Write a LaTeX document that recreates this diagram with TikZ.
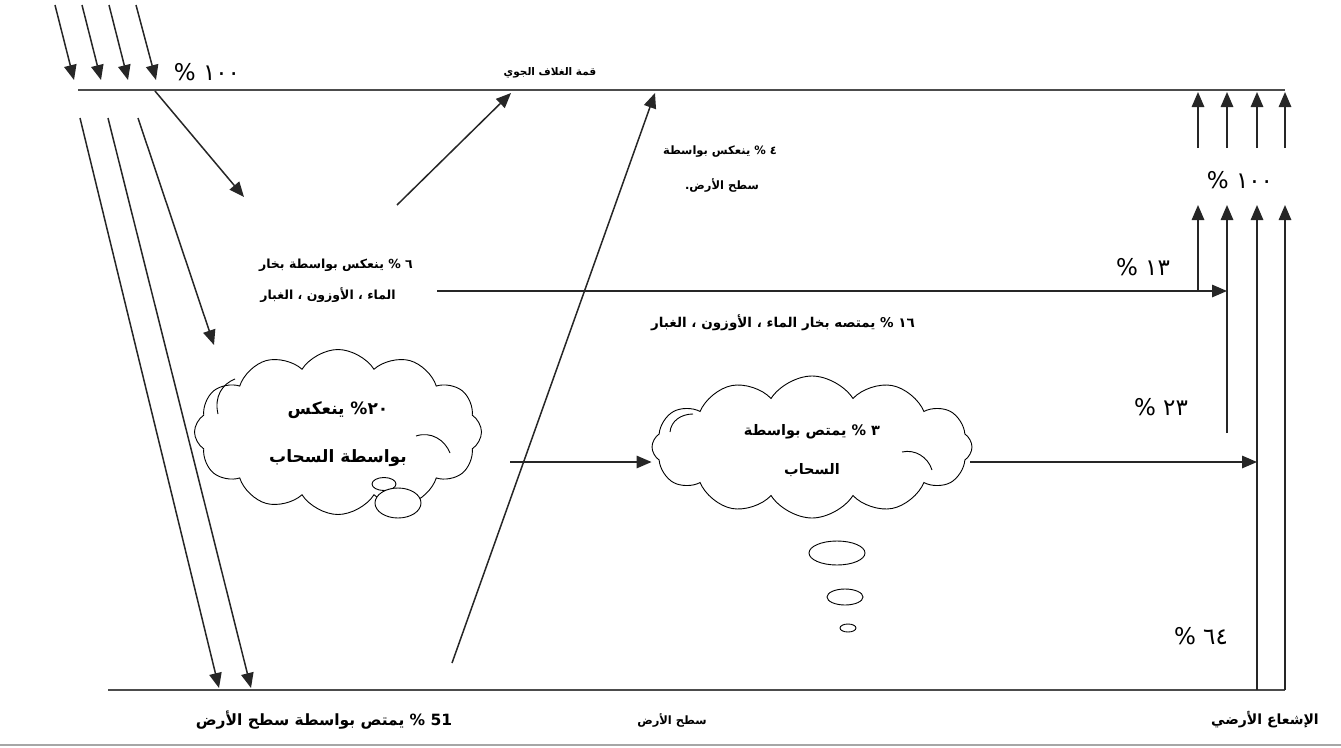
\documentclass[tikz,border=0pt]{standalone}
\usepackage{fontspec}
\usetikzlibrary{arrows.meta,shapes.symbols,shapes.geometric}
\newfontfamily\arfont[Script=Arabic]{DejaVu Sans}
\TeXXeTstate=1
\newcommand{\fs}[1]{\fontsize{#1}{#1}\selectfont}
\begin{document}
\begin{tikzpicture}[x=1pt,y=-1pt,
  arr/.style={line width=1.5pt, draw=black!85, -{Triangle[length=15pt,width=12.5pt]}},
  frameline/.style={line width=2.4pt, draw=black!70},
  lbl/.style={font=\arfont\bfseries, inner sep=0pt},
  num/.style={font=\arfont\fs{23}, inner sep=0pt},
  cloudbox/.style={cloud, draw, line width=0.9pt, cloud puffs=12, cloud puff arc=115, inner sep=0pt},
  innerarc/.style={line width=0.9pt},
  bub/.style={ellipse, draw, line width=0.9pt, inner sep=0pt}]
\useasboundingbox (0,0) rectangle (1341,747);

% frame lines
\coordinate (topL) at (78,90);
\coordinate (topR) at (1285,90);
\coordinate (botL) at (108,690);
\coordinate (botR) at (1285,690);
\draw[frameline] (topL) -- (topR);
\draw[frameline] (botL) -- (botR);
\draw[line width=1.5pt, draw=black!35] (0,745) -- (1341,745);

% incoming solar arrows
\foreach \i/\xs/\xe in {1/55/74, 2/82/101, 3/109/128, 4/136/156}{
  \coordinate (in\i s) at (\xs,5);
  \coordinate (in\i e) at (\xe,80);
  \draw[arr] (in\i s) -- (in\i e);
}
\node[num] (p100a) at (207,72) {\% ١٠٠};
\node[lbl, font=\arfont\bfseries\fs{10.5}] (toa) at (550,73) {\beginR قمة الغلاف الجوي\endR};

% reflected / down arrows
\coordinate (d1s) at (155,91);  \coordinate (d1e) at (244,197);
\draw[arr] (d1s) -- (d1e);
\coordinate (u1s) at (397,205); \coordinate (u1e) at (511,93);
\draw[arr] (u1s) -- (u1e);
\coordinate (u2s) at (452,663); \coordinate (u2e) at (655,93);
\draw[arr] (u2s) -- (u2e);
\coordinate (s1s) at (80,118);  \coordinate (s1e) at (219,688);
\coordinate (s2s) at (108,118); \coordinate (s2e) at (251,688);
\coordinate (s3s) at (138,118); \coordinate (s3e) at (214,345);
\draw[arr] (s1s) -- (s1e);
\draw[arr] (s2s) -- (s2e);
\draw[arr] (s3s) -- (s3e);

% labels
\node[lbl, font=\arfont\bfseries\fs{11.5}] (r4a) at (720,152) {\beginR ٤ \% ينعكس بواسطة\endR};
\node[lbl, font=\arfont\bfseries\fs{11.5}] (r4b) at (722,185) {\beginR سطح الأرض.\endR};
\node[lbl, font=\arfont\bfseries\fs{12.5}] (r6a) at (336,265) {\beginR ٦ \% ينعكس بواسطة بخار\endR};
\node[lbl, font=\arfont\bfseries\fs{12.5}] (r6b) at (328,295) {\beginR الماء ، الأوزون ، الغبار\endR};
\node[lbl, font=\arfont\bfseries\fs{13.5}] (a16) at (783,323) {\beginR ١٦ \% يمتصه بخار الماء ، الأوزون ، الغبار\endR};

% clouds
\node[cloudbox, aspect=1.8, minimum width=287pt, minimum height=165pt] (cl1) at (338,432) {};
\draw[innerarc] (218,414) .. controls (214,397) and (222,384) .. (235,379);
\draw[innerarc] (416,436) .. controls (431,431) and (445,440) .. (450,453);
\node[bub, minimum width=24pt, minimum height=13pt] (b1a) at (384,484) {};
\node[bub, fill=white, minimum width=46pt, minimum height=30pt] (b1b) at (398,503) {};
\node[lbl, font=\arfont\bfseries\fs{17}] (c1a) at (338,410) {\beginR ٢٠\% ينعكس\endR};
\node[lbl, font=\arfont\bfseries\fs{17}] (c1b) at (338,458) {\beginR بواسطة السحاب\endR};

\node[cloudbox, aspect=2.3, minimum width=320pt, minimum height=142pt] (cl2) at (812,447) {};
\draw[innerarc] (670,432) .. controls (671,421) and (681,414) .. (693,414);
\draw[innerarc] (902,452) .. controls (915,449) and (928,457) .. (932,470);
\node[lbl, font=\arfont\bfseries\fs{14.5}] (c2a) at (812,432) {\beginR ٣ \% يمتص بواسطة\endR};
\node[lbl, font=\arfont\bfseries\fs{14.5}] (c2b) at (812,470) {\beginR السحاب\endR};
\node[bub, minimum width=56pt, minimum height=24pt] (b2a) at (837,553) {};
\node[bub, minimum width=36pt, minimum height=16pt] (b2b) at (845,597) {};
\node[bub, minimum width=16pt, minimum height=8pt] (b2c) at (848,628) {};

% horizontal arrows
\coordinate (h1s) at (437,291); \coordinate (h1e) at (1227,291);
\draw[arr] (h1s) -- (h1e);
\coordinate (h2s) at (510,462); \coordinate (h2e) at (cl2.west |- h2s);
\draw[arr] (h2s) -- (h2e);
\coordinate (h3s) at (970,462); \coordinate (h3e) at (1257,462);
\draw[arr] (h3s) -- (h3e);

% right side verticals
\coordinate (v1s) at (1198,291); \coordinate (v1e) at (1198,205);
\coordinate (v2s) at (1227,433); \coordinate (v2e) at (1227,205);
\coordinate (v3s) at (1257,690); \coordinate (v3e) at (1257,205);
\coordinate (v4s) at (botR);     \coordinate (v4e) at (1285,205);
\foreach \k in {1,2,3,4}{\draw[arr] (v\k s) -- (v\k e);}
\foreach \k/\x in {1/1198,2/1227,3/1257,4/1285}{
  \coordinate (w\k s) at (\x,148);
  \coordinate (w\k e) at (\x,92);
  \draw[arr] (w\k s) -- (w\k e);
}
\node[num] (p100b) at (1240,180) {\% ١٠٠};
\node[num] (p13) at (1143,267) {\% ١٣};
\node[num] (p23) at (1161,407) {\% ٢٣};
\node[num] (p64) at (1201,636) {\% ٦٤};

% bottom labels
\node[lbl, font=\arfont\bfseries\fs{15.5}] (abs51) at (324,720) {\beginR 51 \% يمتص بواسطة سطح الأرض\endR};
\node[lbl, font=\arfont\bfseries\fs{11.5}] (surf) at (672,720) {\beginR سطح الأرض\endR};
\node[lbl, font=\arfont\bfseries\fs{14}] (terr) at (1265,720) {\beginR الإشعاع الأرضي\endR};
\end{tikzpicture}
\end{document}
